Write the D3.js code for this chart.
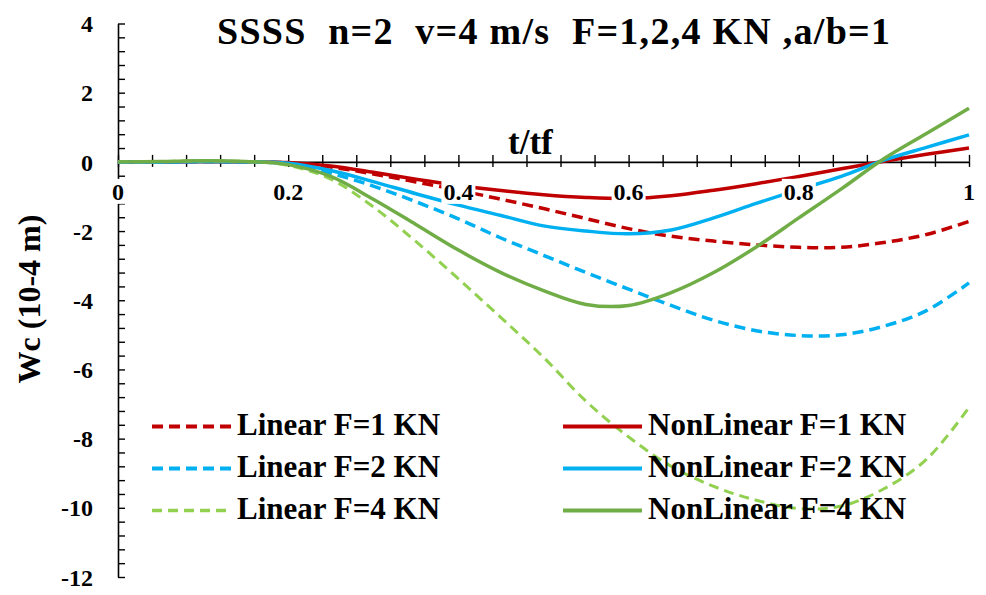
<!DOCTYPE html>
<html>
<head>
<meta charset="utf-8">
<script src="https://cdn.jsdelivr.net/npm/d3@7"></script>
<style>
  body { margin: 0; background: #fff; }
  svg { display: block; }
  svg text { font-family: "Liberation Serif", Tinos, "DejaVu Serif", "Noto Serif", "Times New Roman", serif !important; font-weight: bold; fill: #000; }
</style>
</head>
<body>
<svg id="chart" width="986" height="595"></svg>
<script>
// Non-dimensional time t/tf
const tValues = [0, 0.05, 0.1, 0.15, 0.2, 0.25, 0.3, 0.35, 0.4, 0.45, 0.5,
                 0.55, 0.6, 0.65, 0.7, 0.75, 0.8, 0.85, 0.9, 0.95, 1];

// Central deflection Wc (10-4 m)
const linearF1    = [0, 0, 0.01, 0, -0.03, -0.15, -0.35, -0.58, -0.82, -1.08, -1.35,
                     -1.64, -1.93, -2.15, -2.29, -2.4, -2.47, -2.47, -2.33, -2.1, -1.72];
const nonLinearF1 = [0, 0, 0.01, 0, -0.02, -0.12, -0.3, -0.5, -0.68, -0.83, -0.95,
                     -1.03, -1.06, -0.98, -0.82, -0.63, -0.42, -0.2, 0.02, 0.22, 0.4];
const linearF2    = [0, 0, 0.01, 0, -0.05, -0.33, -0.7, -1.15, -1.65, -2.2, -2.7,
                     -3.2, -3.68, -4.15, -4.58, -4.88, -5.02, -5.0, -4.75, -4.3, -3.5];
const nonLinearF2 = [0, 0, 0.01, 0, -0.04, -0.25, -0.57, -0.92, -1.25, -1.55, -1.85,
                     -2.0, -2.08, -1.97, -1.62, -1.2, -0.8, -0.42, 0.05, 0.42, 0.78];
const linearF4    = [0, 0.01, 0.03, 0.01, -0.1, -0.5, -1.3, -2.3, -3.38, -4.5, -5.65,
                     -6.92, -7.95, -8.8, -9.38, -9.78, -10.02, -9.95, -9.45, -8.6, -7.1];
const nonLinearF4 = [0, 0.01, 0.03, 0.01, -0.08, -0.42, -1.08, -1.81, -2.55, -3.2, -3.72,
                     -4.12, -4.15, -3.78, -3.2, -2.46, -1.62, -0.78, 0.09, 0.82, 1.55];

const seriesNames = ["Linear F=1 KN", "NonLinear F=1 KN",
                     "Linear F=2 KN", "NonLinear F=2 KN",
                     "Linear F=4 KN", "NonLinear F=4 KN"];

// Tick labels
const xTickLabels = [0, 0.2, 0.4, 0.6, 0.8, 1];
const yTickLabels = [4, 2, 0, -2, -4, -6, -8, -10, -12];

const titleText = "SSSS  n=2  v=4 m/s  F=1,2,4 KN ,a/b=1";
const xTitle = "t/tf";
const yTitle = "Wc (10-4 m)";

// ---- styling ----
const styles = [
  { color: "#C00000", dash: "11,6", width: 3.5 },
  { color: "#C00000", dash: null,   width: 3.5 },
  { color: "#00B0F0", dash: "11,6", width: 3.5 },
  { color: "#00B0F0", dash: null,   width: 3.5 },
  { color: "#92D050", dash: "10,6", width: 3 },
  { color: "#70AD47", dash: null,   width: 3.5 }
];
const seriesValues = [linearF1, nonLinearF1, linearF2, nonLinearF2, linearF4, nonLinearF4];

const svg = d3.select("#chart");
const x = d3.scaleLinear().domain([0, 1]).range([118, 969]);
const y = d3.scaleLinear().domain([-12, 4]).range([577, 23.5]);

// y axis: line with minor ticks pointing inward
const yMinor = d3.range(-12, 4.0001, 0.4).map(v => +v.toFixed(1));
const yAxisG = svg.append("g").attr("transform", `translate(${x(0)},0)`)
  .call(d3.axisRight(y).tickValues(yMinor).tickSize(7).tickFormat("").tickSizeOuter(0));
yAxisG.select(".domain").attr("stroke", "#000").attr("stroke-width", 1.6);
yAxisG.selectAll(".tick line").attr("stroke", "#000").attr("stroke-width", 1.4);

// y tick labels
const yLab = svg.append("g").attr("transform", `translate(${x(0)},0)`)
  .call(d3.axisLeft(y).tickValues(yTickLabels).tickSize(0).tickPadding(25)
        .tickFormat(d => d3.format("d")(d).replace("−", "-")));
yLab.select(".domain").remove();
yLab.attr("font-family", null).attr("font-size", null);
yLab.selectAll("text").attr("font-size", 24).attr("dy", "0.34em");

// x axis along y = 0, crossing ticks
const xMinor = d3.range(0, 1.0001, 0.04).map(v => +v.toFixed(2));
const xUp = svg.append("g").attr("transform", `translate(0,${y(0)})`)
  .call(d3.axisTop(x).tickValues(xMinor).tickSize(7).tickFormat("").tickSizeOuter(0));
xUp.select(".domain").attr("stroke", "#000").attr("stroke-width", 1.6);
xUp.selectAll(".tick line").attr("stroke", "#000").attr("stroke-width", 1.4);
const xDown = svg.append("g").attr("transform", `translate(0,${y(0)})`)
  .call(d3.axisBottom(x).tickValues(xMinor).tickSize(5).tickFormat("").tickSizeOuter(0));
xDown.select(".domain").remove();
xDown.selectAll(".tick line").attr("stroke", "#000").attr("stroke-width", 1.4);

// curves
const line = d3.line()
  .x((d, i) => x(tValues[i]))
  .y(d => y(d))
  .curve(d3.curveCatmullRom.alpha(0.5));

svg.append("g").selectAll("path").data(seriesValues).join("path")
  .attr("d", d => line(d))
  .attr("fill", "none")
  .attr("stroke", (d, i) => styles[i].color)
  .attr("stroke-width", (d, i) => styles[i].width)
  .attr("stroke-dasharray", (d, i) => styles[i].dash)
  .attr("stroke-linecap", "butt");

// x tick labels on white boxes (drawn over the curves)
const xLabG = svg.append("g");
const labelBaseline = y(0) + 38;
xTickLabels.forEach(v => {
  const g = xLabG.append("g");
  const txt = g.append("text")
    .attr("x", x(v)).attr("y", labelBaseline)
    .attr("text-anchor", "middle").attr("font-size", 24)
    .text(d3.format("")(v));
  const bb = txt.node().getBBox();
  g.insert("rect", "text")
    .attr("x", bb.x - 2).attr("y", labelBaseline - 21)
    .attr("width", bb.width + 4).attr("height", 25)
    .attr("fill", "#fff");
});

// axis titles
svg.append("text").attr("x", 508).attr("y", 154).attr("font-size", 35).text(xTitle);
svg.append("text")
  .attr("transform", "translate(40,299) rotate(-90)")
  .attr("text-anchor", "middle").attr("font-size", 32).text(yTitle);

// chart title
svg.append("text").attr("x", 217).attr("y", 44).attr("font-size", 38)
  .attr("textLength", 673).attr("lengthAdjust", "spacing")
  .style("white-space", "pre").text(titleText);

// legend in two columns
const legend = svg.append("g");
const colX = [152, 563];
const rowY = [435, 477, 519];
seriesNames.forEach((name, i) => {
  const cx = colX[i % 2], cy = rowY[Math.floor(i / 2)];
  legend.append("line")
    .attr("x1", cx).attr("x2", cx + 79)
    .attr("y1", cy - 8.5).attr("y2", cy - 8.5)
    .attr("stroke", styles[i].color)
    .attr("stroke-width", styles[i].width + 0.5)
    .attr("stroke-dasharray", styles[i].dash);
  legend.append("text")
    .attr("x", cx + 85).attr("y", cy)
    .attr("font-size", 31).text(name);
});
</script>
</body>
</html>
